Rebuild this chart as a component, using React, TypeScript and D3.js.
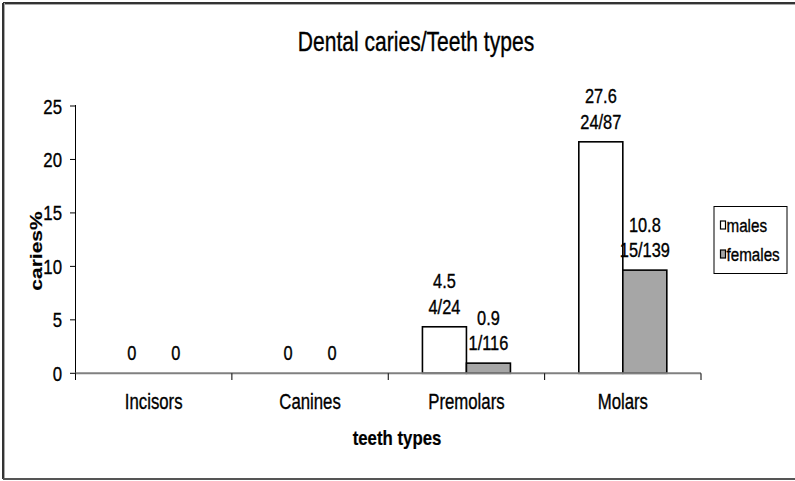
import React from "react";
import * as d3 from "d3";

const categories = ["Incisors", "Canines", "Premolars", "Molars"];
const seriesNames = ["males", "females"];
const males = [0, 0, 4.35, 21.65];
const females = [0, 0, 0.95, 9.65];
const malesLabels = [["0"], ["0"], ["4.5", "4/24"], ["27.6", "24/87"]];
const femalesLabels = [["0"], ["0"], ["0.9", "1/116"], ["10.8", "15/139"]];
const yTicks = [0, 5, 10, 15, 20, 25];

const W = 795;
const H = 481;
const FONT = "Liberation Sans, Arial, sans-serif";
const GRAY = "#a6a6a6";

function T({ x, y, size, sx = 0.85, anchor = "middle", bold = false, rot = 0, children }: any) {
  const tr = rot
    ? `translate(${x},${y}) rotate(${rot}) scale(1,${sx})`
    : `translate(${x},${y}) scale(${sx},1)`;
  return (
    <text
      transform={tr}
      fontFamily={FONT}
      fontSize={size}
      fontWeight={bold ? "bold" : "normal"}
      textAnchor={anchor}
      fill="#000"
      stroke="#000"
      strokeWidth={bold ? 0.2 : 0.35}
    >
      {children}
    </text>
  );
}

export default function App() {
  const x0 = 75.5;
  const x1 = 701;
  const yBase = 373.3;
  const yTop = 106;
  const x = d3.scaleBand<string>().domain(categories).range([x0, x1]).paddingInner(0).paddingOuter(0);
  const bw = x.bandwidth();
  const barW = 44;
  const inner = d3.scaleBand<string>().domain(seriesNames).range([(bw - 2 * barW) / 2, (bw + 2 * barW) / 2]);
  const y = d3.scaleLinear().domain([0, 25]).range([yBase, yTop]);
  const series = [
    { name: "males", values: males, labels: malesLabels, fill: "#ffffff" },
    { name: "females", values: females, labels: femalesLabels, fill: GRAY },
  ];
  const boundaries = [...categories.map((c) => x(c) as number), x1];

  return (
    <svg width={W} height={H} style={{ position: "absolute", left: 0, top: 0, background: "#fff" }}>
      <rect x={0} y={0} width={W} height={H} fill="#fff" />
      {/* outer frame */}
      <line x1={3} y1={3} x2={W} y2={3} stroke="#333" strokeWidth={2} />
      <line x1={3} y1={4.5} x2={W} y2={4.5} stroke="#aaa" strokeWidth={1} />
      <line x1={3} y1={3} x2={3} y2={479} stroke="#333" strokeWidth={2} />
      <line x1={4.5} y1={3} x2={4.5} y2={479} stroke="#aaa" strokeWidth={1} />
      <line x1={3} y1={479} x2={W} y2={479} stroke="#555" strokeWidth={2} />

      <T x={416} y={50.5} size={27} sx={0.78}>Dental caries/Teeth types</T>

      {/* bars */}
      {series.map((s) =>
        categories.map((c, i) => {
          const bx = (x(c) as number) + (inner(s.name) as number);
          const v = s.values[i];
          const by = y(v);
          return (
            <g key={s.name + c}>
              {v > 0 && (
                <rect x={bx} y={by} width={barW} height={yBase - by} fill={s.fill} stroke="#000" strokeWidth={1.6} />
              )}
              {s.labels[i].map((t, k) => (
                <T key={k} x={bx + barW / 2} y={by - 13 - (s.labels[i].length - 1 - k) * 25.5} size={19.5} sx={0.84}>
                  {t}
                </T>
              ))}
            </g>
          );
        })
      )}

      {/* y axis */}
      <line x1={x0} y1={yTop - 1} x2={x0} y2={380} stroke="#000" strokeWidth={1} />
      {yTicks.map((t) => (
        <g key={t}>
          <line x1={70} y1={y(t)} x2={x0} y2={y(t)} stroke="#000" strokeWidth={1} />
          <T x={62} y={y(t) + 7.5} size={21} sx={0.8} anchor="end">{String(t)}</T>
        </g>
      ))}
      {/* x axis */}
      <line x1={x0} y1={yBase} x2={x1} y2={yBase} stroke="#808080" strokeWidth={2} />
      {boundaries.map((b, i) => (
        <line key={i} x1={b} y1={yBase} x2={b} y2={380} stroke="#000" strokeWidth={1} />
      ))}
      {categories.map((c) => (
        <T key={c} x={(x(c) as number) + bw / 2} y={408.5} size={21.5} sx={0.78}>{c}</T>
      ))}

      <T x={397} y={445} size={20} sx={0.84} bold>teeth types</T>
      <T x={42} y={251} size={21} sx={0.82} bold rot={-90}>caries%</T>

      {/* legend */}
      <rect x={714} y={206.5} width={73} height={67} fill="#fff" stroke="#000" strokeWidth={1} />
      {series.map((s, i) => {
        const cy = 225 + i * 29;
        return (
          <g key={s.name}>
            <rect x={720.5} y={cy - 4} width={5} height={8} fill={s.fill} stroke="#000" strokeWidth={1.2} />
            <T x={726.5} y={cy + 7} size={19} sx={0.8} anchor="start">{s.name}</T>
          </g>
        );
      })}
    </svg>
  );
}
